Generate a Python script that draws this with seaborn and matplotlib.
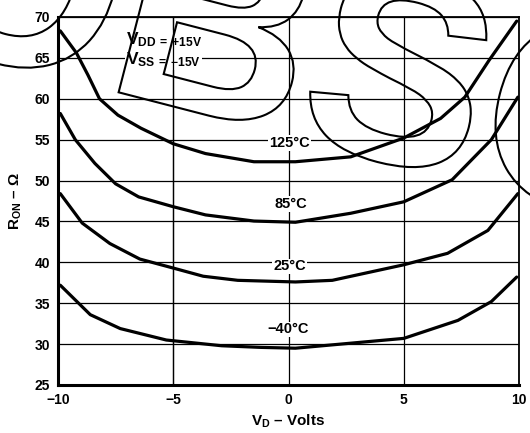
import numpy as np
import pandas as pd
import matplotlib
matplotlib.use("Agg")
import matplotlib.pyplot as plt
import seaborn as sns
from matplotlib.textpath import TextPath
from matplotlib.font_manager import FontProperties
from matplotlib.patches import PathPatch
from matplotlib.transforms import Affine2D

# ---------------- data ----------------
v_125 = [-9.9, -9.2, -8.7, -8.2, -7.4, -6.4, -5.0, -3.6, -1.5, 0.3, 2.7, 5.0, 6.6, 7.65, 8.7, 9.9]
r_125 = [68.3, 65.6, 62.9, 60.0, 58.0, 56.4, 54.5, 53.3, 52.3, 52.3, 52.9, 55.2, 57.6, 60.2, 64.7, 69.5]

v_85 = [-9.9, -9.25, -8.4, -7.5, -6.5, -5.0, -3.6, -1.5, 0.3, 2.7, 5.0, 7.1, 8.8, 9.95]
r_85 = [58.2, 55.0, 52.1, 49.6, 48.0, 46.8, 45.8, 45.05, 44.9, 46.0, 47.4, 50.1, 55.0, 60.2]

v_25 = [-9.9, -8.95, -7.75, -6.45, -5.0, -3.7, -2.2, 0.3, 1.9, 5.0, 6.9, 8.65, 9.95]
r_25 = [48.4, 44.8, 42.3, 40.4, 39.3, 38.3, 37.8, 37.6, 37.8, 39.7, 41.1, 43.9, 48.4]

v_m40 = [-9.9, -8.6, -7.3, -5.3, -2.9, -1.2, 0.3, 5.0, 7.35, 8.8, 9.9]
r_m40 = [37.2, 33.6, 31.9, 30.5, 29.8, 29.6, 29.5, 30.7, 32.9, 35.2, 38.2]

curve_labels = ["125°C", "85°C", "25°C", "\u221240°C"]
label_v = [0.05, 0.1, 0.05, 0.0]
label_r = [54.6, 47.1, 39.5, 31.8]

x_ticks = [-10, -5, 0, 5, 10]
x_ticklabels = ["\u221210", "\u22125", "0", "5", "10"]
y_ticks = [25, 30, 35, 40, 45, 50, 55, 60, 65, 70]

supply_labels = ["$\\mathrm{V_{DD\\:=\\:+15V}}$", "$\\mathrm{V_{SS\\:=\\:\u221215V}}$"]

watermark = "OBSOLETE"

# ---------------- style ----------------
sns.set_theme(style="white")
plt.rcParams["font.family"] = ["Liberation Sans", "DejaVu Sans"]
plt.rcParams["font.weight"] = "bold"
plt.rcParams["mathtext.fontset"] = "custom"
plt.rcParams["mathtext.rm"] = "Liberation Sans:bold"
plt.rcParams["mathtext.it"] = "Liberation Sans:bold"
plt.rcParams["mathtext.bf"] = "Liberation Sans:bold"

df = pd.concat([
    pd.DataFrame({"V": v_125, "R": r_125, "T": curve_labels[0]}),
    pd.DataFrame({"V": v_85, "R": r_85, "T": curve_labels[1]}),
    pd.DataFrame({"V": v_25, "R": r_25, "T": curve_labels[2]}),
    pd.DataFrame({"V": v_m40, "R": r_m40, "T": curve_labels[3]}),
], ignore_index=True)

fig = plt.figure(figsize=(5.30, 4.33), dpi=100)
ax = fig.add_axes([58 / 530, 48 / 433, 461 / 530, 368 / 433])

sns.lineplot(data=df, x="V", y="R", hue="T", units="T", estimator=None, sort=False,
             palette=["black"] * 4, linewidth=2.3, legend=False, ax=ax, zorder=4)

ax.set_xlim(-10, 10)
ax.set_ylim(25, 70)
ax.set_xticks(x_ticks)
ax.set_xticklabels(x_ticklabels)
ax.set_yticks(y_ticks)
ax.tick_params(length=0, labelsize=10, pad=5.5)
for lab in ax.get_xticklabels() + ax.get_yticklabels():
    lab.set_fontweight("bold")
    lab.set_color("black")

ax.grid(True, color="black", linewidth=0.9)
ax.set_axisbelow(True)
for side, lw in [("left", 2.2), ("bottom", 2.2), ("top", 1.3), ("right", 1.3)]:
    ax.spines[side].set_visible(True)
    ax.spines[side].set_color("black")
    ax.spines[side].set_linewidth(lw)

ax.set_xlabel("$\\mathrm{V_D}$ \u2013 Volts", fontsize=11,
              fontweight="bold", color="black", labelpad=4)
ax.set_ylabel("$\\mathrm{R_{ON}}$ \u2013 \u03a9",
              fontsize=11, fontweight="bold", color="black", labelpad=8)

for t, xv, yv in zip(curve_labels, label_v, label_r):
    ax.text(xv, yv, t, ha="center", va="center", fontsize=10.5, fontweight="bold",
            color="black", zorder=5,
            bbox=dict(facecolor="white", edgecolor="none", pad=0.6))

for s, yv in zip(supply_labels, [67.2, 64.8]):
    ax.text(-7.05, yv, s, ha="left", va="center", fontsize=12.5,
            color="black", zorder=3, bbox=dict(facecolor="white", edgecolor="none", pad=0.5))
ax.axvline(-5, color="black", linewidth=0.9, zorder=3.5)

# ---------------- watermark outline text ----------------
fp = FontProperties(family="Liberation Sans", weight="bold")
tp = TextPath((0, 0), watermark, size=1, prop=fp)
em = 271
tr = Affine2D().scale(em).rotate_deg(-14.5).translate(-103, 398)
patch = PathPatch(tp, transform=tr, facecolor="none", edgecolor="black", linewidth=1.5,
                  zorder=10)
fig.add_artist(patch)

fig.savefig("out.png", dpi=100, facecolor="white")
